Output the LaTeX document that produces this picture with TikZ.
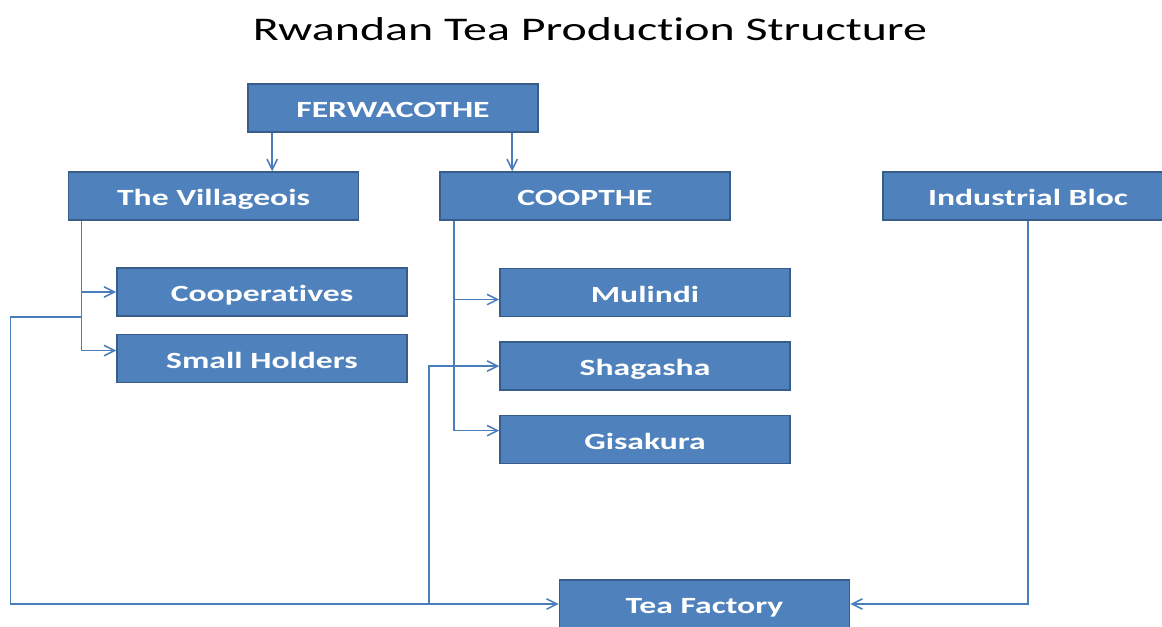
\documentclass[tikz,border=0pt]{standalone}
\usepackage{fontspec}
\setmainfont{Carlito}[FakeStretch=1.45, Ligatures={NoCommon}]
\usepackage{xcolor}
\usepackage{tikz}
\usetikzlibrary{arrows.meta,positioning,calc}
\definecolor{teaBlue}{RGB}{79,129,189}
\definecolor{teaEdge}{RGB}{56,93,138}
\definecolor{teaLine}{RGB}{74,126,187}

\begin{document}
\begin{tikzpicture}[
    x=0.025cm, y=-0.025cm,
    node distance=0.6cm,
    unit/.style={rectangle, draw=teaEdge, line width=1.1pt, fill=teaBlue, text=white,
        minimum width=7.25cm, minimum height=1.2cm, inner sep=0pt,
        text height=13.8pt, text depth=0pt,
        font=\fontsize{16.5}{19}\selectfont\bfseries},
    arrow/.style={-{Straight Barb[length=0.26cm, width=0.26cm]}, draw=teaLine, line width=1.1pt}
]
    \useasboundingbox (0,0) rectangle (1162,626);

    \node[font=\fontsize{23.5}{28}\selectfont] (title) at (590,29) {Rwandan Tea Production Structure};

    % Federation and its two branches
    \node[unit] (ferw) at (393,108) {FERWACOTHE};
    \node[unit] (vill) at (213.5,196) {The Villageois};
    \node[unit] (coop) at (585,196) {COOPTHE};
    \node[unit] (indus) at (1028,196) {Industrial Bloc};

    % Villageois members
    \node[unit] (coops) at (262,292) {Cooperatives};
    \node[unit, below=0.425cm of coops] (small) {Small Holders};

    % COOPTHE estates
    \node[unit] (mul) at (645,292.5) {Mulindi};
    \node[unit, below=of mul] (shag) {Shagasha};
    \node[unit, below=of shag] (gis) {Gisakura};

    \node[unit] (tea) at (704.5,604) {Tea Factory};

    \coordinate (fv) at ($(ferw.south west)+(25,0)$);
    \coordinate (fc) at ($(ferw.south west)+(265,0)$);
    \coordinate (vt) at ($(vill.south west)+(14,0)$);
    \coordinate (ct) at ($(coop.south west)+(15,0)$);
    \coordinate (st) at ($(coop.south west)+(-10,0)$);
    \coordinate (it) at (indus.south);

    \draw[arrow] (fv) -- (fv |- vill.north);
    \draw[arrow] (fc) -- (fc |- coop.north);

    \draw[arrow] (vt) |- (coops.west);
    \draw[arrow] (vt) |- ($(small.west)+(0,-8)$);

    \draw[arrow] (ct) |- ($(mul.west)+(0,7)$);
    \draw[arrow] (ct) |- ($(gis.west)+(0,-9)$);

    % Feeds into the factory
    \draw[arrow] (vt |- coops.south) -- ++(-71,0) |- (tea.west);
    \draw[arrow] (st |- tea.west) |- (shag.west);
    \draw[arrow] (it) |- (tea.east);
\end{tikzpicture}
\end{document}
